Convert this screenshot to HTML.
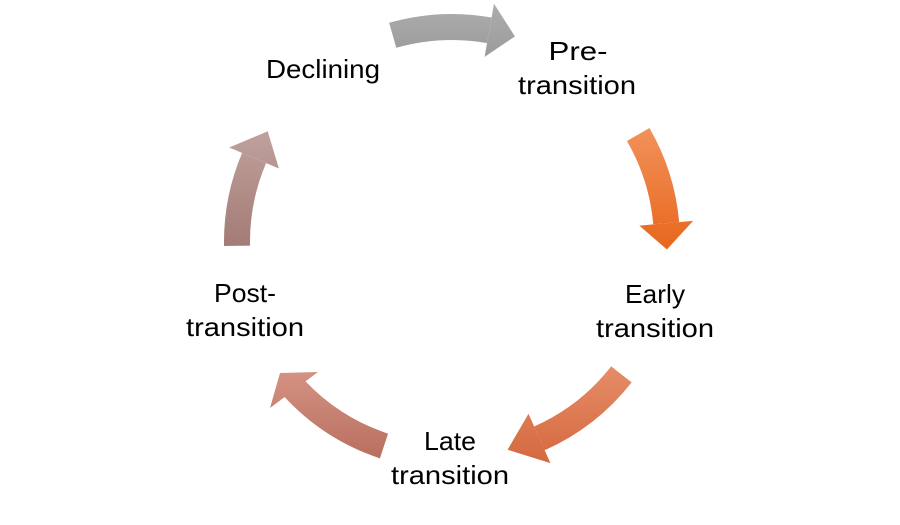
<!DOCTYPE html>
<html><head><meta charset="utf-8"><style>
html,body{margin:0;padding:0;background:#fff;}
svg{display:block;}
text{font-family:"Liberation Sans",sans-serif;font-size:26px;fill:#000;text-anchor:middle;}
</style></head><body>
<svg width="900" height="525" viewBox="0 0 900 525" xmlns="http://www.w3.org/2000/svg">
<defs>
<linearGradient id="g1" gradientUnits="userSpaceOnUse" x1="0" y1="0" x2="0" y2="60"><stop offset="0" stop-color="#aeaeae"/><stop offset="1" stop-color="#9a9a9a"/></linearGradient>
<linearGradient id="g2" gradientUnits="userSpaceOnUse" x1="0" y1="130" x2="0" y2="250"><stop offset="0" stop-color="#f1915a"/><stop offset="1" stop-color="#e8661c"/></linearGradient>
<linearGradient id="g3" gradientUnits="userSpaceOnUse" x1="0" y1="370" x2="0" y2="465"><stop offset="0" stop-color="#e58b66"/><stop offset="1" stop-color="#d4683e"/></linearGradient>
<linearGradient id="g4" gradientUnits="userSpaceOnUse" x1="0" y1="372" x2="0" y2="460"><stop offset="0" stop-color="#d49282"/><stop offset="1" stop-color="#b86e5f"/></linearGradient>
<linearGradient id="g5" gradientUnits="userSpaceOnUse" x1="0" y1="130" x2="0" y2="246"><stop offset="0" stop-color="#c0a29d"/><stop offset="1" stop-color="#a47b76"/></linearGradient>
</defs>
<path d="M392.7,35.3 A215,215 0 0 1 489.3,30.3" fill="none" stroke="url(#g1)" stroke-width="26"/>
<polygon points="484.6,56.9 494.0,3.7 514.9,36.4" fill="url(#g1)"/>
<path d="M638.2,134.5 A215,215 0 0 1 666.2,223.3" fill="none" stroke="url(#g2)" stroke-width="26"/>
<polygon points="639.3,225.6 693.1,220.9 666.9,249.5" fill="url(#g2)"/>
<path d="M621.4,374.4 A215,215 0 0 1 539.4,438.4" fill="none" stroke="url(#g3)" stroke-width="26"/>
<polygon points="528.5,413.7 550.4,463.1 507.6,449.7" fill="url(#g3)"/>
<path d="M384.0,446.0 A215,215 0 0 1 293.0,387.0" fill="none" stroke="url(#g4)" stroke-width="26"/>
<polygon points="318,372 280,373 270,408" fill="url(#g4)"/>
<path d="M237.0,245.8 A215,215 0 0 1 254.1,158.0" fill="none" stroke="url(#g5)" stroke-width="26"/>
<polygon points="278.9,168.5 229.2,147.5 267.7,131.3" fill="url(#g5)"/>

<text x="323" y="78" textLength="114" lengthAdjust="spacingAndGlyphs">Declining</text>
<text x="578" y="60" textLength="59" lengthAdjust="spacingAndGlyphs">Pre-</text>
<text x="577" y="94" textLength="118" lengthAdjust="spacingAndGlyphs">transition</text>
<text x="655" y="303" textLength="60" lengthAdjust="spacingAndGlyphs">Early</text>
<text x="655" y="337" textLength="118" lengthAdjust="spacingAndGlyphs">transition</text>
<text x="450" y="450" textLength="52" lengthAdjust="spacingAndGlyphs">Late</text>
<text x="450" y="484" textLength="118" lengthAdjust="spacingAndGlyphs">transition</text>
<text x="245" y="302" textLength="62" lengthAdjust="spacingAndGlyphs">Post-</text>
<text x="245" y="336" textLength="118" lengthAdjust="spacingAndGlyphs">transition</text>
</svg>
</body></html>
